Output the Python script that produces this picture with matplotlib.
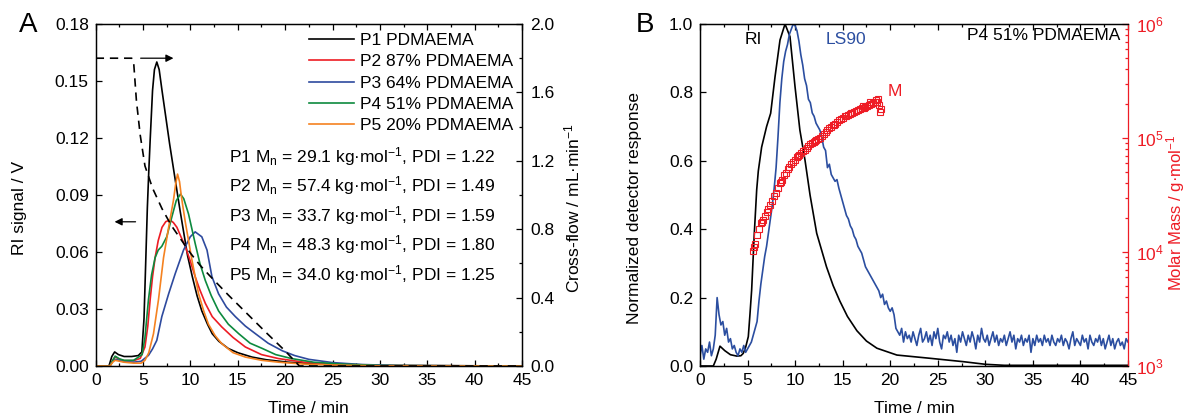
import numpy as np
import matplotlib
matplotlib.use("Agg")
import matplotlib.pyplot as plt
from matplotlib.ticker import MultipleLocator, FormatStrFormatter, LogLocator, NullFormatter

plt.rcParams['font.family'] = ['Liberation Sans', 'DejaVu Sans']
plt.rcParams['mathtext.fontset'] = 'custom'
plt.rcParams['mathtext.rm'] = 'Liberation Sans'
plt.rcParams['mathtext.it'] = 'Liberation Sans:italic'
plt.rcParams['font.size'] = 12.5
plt.rcParams['axes.linewidth'] = 0.9

# ---- panel A : RI signals (V) ----
p1_t = [0, 1.4, 1.7, 2.0, 2.4, 3.0, 3.8, 4.5, 4.87, 5.1, 5.3, 5.45, 5.6, 5.75, 6.0, 6.2, 6.45,
        6.7, 7.0, 7.4, 7.8, 8.3, 8.9, 9.3, 9.7, 10.2, 10.7, 11.2, 11.8, 12.3, 13.0, 14.0, 15.0,
        16.5, 18.0, 20.3, 23, 26, 30, 45]
p1_v = [0, 0, 0.005, 0.0074, 0.006, 0.005, 0.005, 0.0055, 0.0074, 0.025, 0.058, 0.083, 0.102,
        0.119, 0.145, 0.156, 0.160, 0.156, 0.145, 0.131, 0.117, 0.101, 0.082, 0.070, 0.058,
        0.047, 0.037, 0.029, 0.022, 0.017, 0.013, 0.0092, 0.007, 0.0047, 0.0033, 0.002, 0.0012,
        0.0006, 0.0002, 0]

p2_t = [0, 1.5, 1.8, 2.05, 2.5, 3.0, 4.0, 4.7, 5.2, 5.5, 5.75, 6.0, 6.27, 6.6, 7.0, 7.4, 7.86,
        8.2, 8.57, 9.0, 9.45, 10.0, 10.5, 11.0, 11.57, 12.3, 13.3, 14.5, 15.8, 17.5, 19.3, 22,
        25, 30, 45]
p2_v = [0, 0, 0.003, 0.0048, 0.0035, 0.0028, 0.0028, 0.004, 0.010, 0.021, 0.035, 0.047, 0.057,
        0.066, 0.073, 0.076, 0.0768, 0.0755, 0.073, 0.068, 0.063, 0.055, 0.047, 0.040, 0.033,
        0.026, 0.0206, 0.015, 0.010, 0.006, 0.0039, 0.002, 0.001, 0.0003, 0]

p3_t = [0, 1.5, 1.8, 2.05, 2.5, 3.0, 4.0, 4.8, 5.57, 6.0, 6.45, 6.98, 7.7, 8.4, 9.27, 9.98,
        10.5, 11.2, 11.75, 12.27, 12.97, 13.8, 14.74, 15.8, 16.86, 18.2, 19.7, 21, 22.5, 25,
        28, 32, 45]
p3_v = [0, 0, 0.0025, 0.0035, 0.003, 0.0022, 0.002, 0.0025, 0.0056, 0.009, 0.0135, 0.026,
        0.038, 0.0487, 0.061, 0.068, 0.0706, 0.068, 0.061, 0.047, 0.038, 0.031, 0.026, 0.021,
        0.017, 0.012, 0.008, 0.0055, 0.0035, 0.0018, 0.0008, 0.0002, 0]

p4_t = [0, 1.5, 1.8, 2.05, 2.5, 3.0, 4.0, 4.9, 5.2, 5.57, 5.9, 6.27, 6.6, 6.98, 7.5, 8.04,
        8.5, 8.95, 9.3, 9.8, 10.5, 11.0, 11.57, 12.2, 12.97, 14.0, 15.1, 16.3, 17.6, 19, 20.7,
        23, 26, 30, 45]
p4_v = [0, 0, 0.003, 0.0052, 0.0038, 0.003, 0.003, 0.006, 0.015, 0.035, 0.048, 0.057, 0.061,
        0.063, 0.068, 0.0785, 0.087, 0.0905, 0.088, 0.080, 0.0645, 0.054, 0.045, 0.037, 0.029,
        0.022, 0.017, 0.012, 0.0092, 0.006, 0.0039, 0.002, 0.001, 0.0003, 0]

p5_t = [0, 1.5, 1.8, 2.05, 2.5, 3.0, 4.0, 4.8, 5.2, 5.6, 6.1, 6.63, 7.16, 7.7, 8.2, 8.45,
        8.64, 8.85, 9.0, 9.17, 9.45, 9.8, 10.16, 10.86, 11.4, 11.9, 12.6, 13.3, 14.5, 15.8,
        17.5, 19.3, 22, 25, 30, 45]
p5_v = [0, 0, 0.002, 0.003, 0.0025, 0.002, 0.0015, 0.0015, 0.003, 0.007, 0.017, 0.035, 0.057,
        0.073, 0.087, 0.096, 0.101, 0.097, 0.091, 0.085, 0.076, 0.066, 0.0557, 0.038, 0.029,
        0.022, 0.016, 0.0118, 0.007, 0.0047, 0.003, 0.002, 0.001, 0.0005, 0.0001, 0]

# cross-flow programme (mL/min)
flow_t = [0, 3.8, 4.0, 4.3, 4.7, 5.2, 6.0, 7.0, 8.0, 9.0, 10, 11, 12, 14, 16, 18, 20, 21.5, 45]
flow_v = [1.8, 1.8, 1.78, 1.55, 1.35, 1.17, 1.04, 0.92, 0.82, 0.74, 0.66, 0.59, 0.53, 0.415,
          0.305, 0.195, 0.088, 0.0, 0.0]

labels = ['P1 PDMAEMA', 'P2 87% PDMAEMA', 'P3 64% PDMAEMA', 'P4 51% PDMAEMA', 'P5 20% PDMAEMA']
mn = [29.1, 57.4, 33.7, 48.3, 34.0]
pdi = [1.22, 1.49, 1.59, 1.80, 1.25]

# ---- panel B : P4 normalized detector signals ----
ri_t = [0, 1.4, 1.7, 2.1, 2.6, 3.2, 3.86, 4.3, 4.55, 4.8, 5.08, 5.25, 5.43, 5.71, 5.96, 6.13,
        6.48, 7.0, 7.43, 7.89, 8.41, 8.94, 9.46, 9.99, 10.5, 11.04, 11.57, 12.27, 13.3, 14.0,
        14.7, 15.5, 16.5, 17.5, 18.6, 20.7, 24.2, 27.7, 30, 32, 45]
ri_v = [0, 0, 0.02, 0.058, 0.045, 0.033, 0.029, 0.03, 0.037, 0.055, 0.086, 0.15, 0.222, 0.388,
        0.515, 0.57, 0.64, 0.70, 0.739, 0.846, 0.953, 1.0, 0.963, 0.817, 0.69, 0.602, 0.5,
        0.388, 0.29, 0.235, 0.19, 0.145, 0.103, 0.073, 0.052, 0.032, 0.0225, 0.0126, 0.005,
        0.002, 0.002]

ls_t = np.arange(0, 45.001, 0.2)
ls_v = [0.03, 0.06, 0.02, 0.05, 0.04, 0.07, 0.03, 0.05, 0.09, 0.20,
        0.15, 0.12, 0.13, 0.09, 0.11, 0.07, 0.08, 0.05, 0.06, 0.04,
        0.03, 0.05, 0.04, 0.06, 0.04, 0.05, 0.06, 0.07, 0.09, 0.11,
        0.13, 0.19, 0.24, 0.28, 0.32, 0.35, 0.39, 0.43, 0.47, 0.52,
        0.58, 0.67, 0.77, 0.84, 0.89, 0.92, 0.94, 0.97, 0.985, 1.0,
        0.995, 0.98, 0.95, 0.91, 0.88, 0.84, 0.82, 0.78, 0.77, 0.74,
        0.73, 0.71, 0.70, 0.69, 0.67, 0.64, 0.63, 0.58, 0.59, 0.56,
        0.55, 0.54, 0.545, 0.52, 0.50, 0.48, 0.46, 0.44, 0.43, 0.41,
        0.40, 0.38, 0.37, 0.35, 0.34, 0.33, 0.31, 0.29, 0.28, 0.27,
        0.26, 0.25, 0.24, 0.23, 0.22, 0.20, 0.21, 0.18, 0.19, 0.17,
        0.16, 0.17, 0.15, 0.11, 0.10, 0.09, 0.11, 0.07, 0.10, 0.08,
        0.09, 0.07, 0.10, 0.08, 0.06, 0.09, 0.11, 0.07, 0.08, 0.10,
        0.07, 0.09, 0.06, 0.10, 0.08, 0.11, 0.07, 0.05, 0.09, 0.08,
        0.10, 0.07, 0.09, 0.06, 0.08, 0.04, 0.09, 0.07, 0.10, 0.08,
        0.06, 0.09, 0.07, 0.10, 0.08, 0.05, 0.09, 0.07, 0.11, 0.08,
        0.07, 0.09, 0.06, 0.08, 0.10, 0.07, 0.09, 0.06, 0.08, 0.07,
        0.09, 0.06, 0.08, 0.10, 0.07, 0.09, 0.05, 0.08, 0.07, 0.09,
        0.06, 0.08, 0.07, 0.09, 0.04, 0.08, 0.06, 0.09, 0.07, 0.08,
        0.06, 0.09, 0.07, 0.08, 0.06, 0.09, 0.07, 0.06, 0.08, 0.07,
        0.09, 0.06, 0.08, 0.07, 0.05, 0.08, 0.10, 0.06, 0.08, 0.07,
        0.06, 0.09, 0.07, 0.08, 0.05, 0.09, 0.07, 0.06, 0.08, 0.07,
        0.09, 0.06, 0.08, 0.05, 0.07, 0.09, 0.06, 0.08, 0.05, 0.07,
        0.08, 0.06, 0.07, 0.05, 0.08, 0.07]

m_t = np.arange(5.6, 19.001, 0.2)
m_v = [10200, 11800, 14000, 16000, 17900, 19000, 20500, 22300, 23600, 25900,
       27800, 31000, 33200, 36500, 40100, 43000, 47200, 49500, 53000, 55800,
       58600, 61500, 64000, 67500, 70500, 73800, 76400, 79000, 82500, 85300,
       88500, 90600, 93000, 95500, 98200, 101000, 105000, 109000, 113500, 117000,
       121500, 125000, 129000, 133500, 138000, 143000, 146500, 151000, 155000, 157500,
       160500, 163000, 166500, 168500, 172000, 175000, 178500, 181500, 185000, 188000,
       192000, 196000, 199000, 203000, 208000, 205000, 195000, 178000]
m_extra_t = [5.7, 6.5, 8.5, 10.3, 12.1, 14.1, 15.9, 17.1, 17.9, 18.5, 18.7, 18.9]
m_extra_v = [11000, 18500, 41000, 69000, 95000, 131000, 165000, 190000, 205000, 215000,
             222000, 170000]

colors = ['black', '#ed1c24', '#2e4a9e', '#0d8a3e', '#f58220']
ls_blue = '#2b4ea0'
m_red = '#ee1c25'

fig = plt.figure(figsize=(11.87, 4.19), dpi=100)

# ================= panel A =================
ax = fig.add_axes([95.7 / 1187, 53 / 419, 426.3 / 1187, 342 / 419])
ax2 = ax.twinx()

series = [(p1_t, p1_v), (p2_t, p2_v), (p3_t, p3_v), (p4_t, p4_v), (p5_t, p5_v)]
for (t, v), c, lab in zip(series, colors, labels):
    ax.plot(t, v, color=c, lw=1.2, label=lab)
ax2.plot(flow_t, flow_v, color='black', lw=1.2, ls=(0, (5, 3.5)))

ax.set_xlim(0, 45)
ax.set_ylim(0, 0.18)
ax2.set_ylim(0, 2.0)
ax.xaxis.set_major_locator(MultipleLocator(5))
ax.xaxis.set_minor_locator(MultipleLocator(2.5))
ax.yaxis.set_major_locator(MultipleLocator(0.03))
ax.yaxis.set_major_formatter(FormatStrFormatter('%.2f'))
ax2.yaxis.set_major_locator(MultipleLocator(0.4))
ax2.yaxis.set_minor_locator(MultipleLocator(0.2))
ax2.yaxis.set_major_formatter(FormatStrFormatter('%.1f'))
ax.tick_params(axis='x', which='both', direction='in', top=True, pad=5)
ax.tick_params(axis='y', which='both', direction='in', pad=5)
ax.tick_params(which='major', length=4, width=0.9)
ax.tick_params(which='minor', length=2.5, width=0.9)
ax2.tick_params(axis='y', which='both', direction='in', pad=6, width=0.9)
ax2.tick_params(which='major', length=4)
ax2.tick_params(which='minor', length=2.5)

ax.set_xlabel('Time / min')
ax.xaxis.set_label_coords(0.5, -0.102)
ax.set_ylabel('RI signal / V')
ax.yaxis.set_label_coords(-0.161, 0.462)
ax2.set_ylabel('Cross-flow / mL·min$^{-1}$')
ax2.yaxis.set_label_coords(1.096, 0.462)

ax.legend(loc='upper right', bbox_to_anchor=(1.0, 1.0), frameon=False, borderaxespad=0.2,
          borderpad=0.3, handlelength=2.6, handletextpad=0.35, labelspacing=0.36)

for i in range(5):
    ax.text(0.3127, 0.5965 - i * 0.0863,
            'P%d M$_\\mathrm{n}$ = %.1f kg·mol$^{-1}$, PDI = %.2f' % (i + 1, mn[i], pdi[i]),
            transform=ax.transAxes, va='baseline', ha='left')

ax2.annotate('', xy=(8.5, 1.8), xytext=(4.45, 1.8),
             arrowprops=dict(arrowstyle='-|>', color='black', lw=0.9, mutation_scale=11))
ax.annotate('', xy=(1.7, 0.0759), xytext=(4.5, 0.0759),
            arrowprops=dict(arrowstyle='-|>', color='black', lw=0.9, mutation_scale=11))

fig.text(28 / 1187, 1 - 25 / 419, 'A', fontsize=20, ha='center', va='center')

# ================= panel B =================
bx = fig.add_axes([700 / 1187, 53 / 419, 428 / 1187, 342 / 419])
bx2 = bx.twinx()

bx.plot(ri_t, ri_v, color='black', lw=1.2)
bx.plot(ls_t, ls_v, color=ls_blue, lw=1.2)
bx2.plot(m_t, m_v, ls='none', marker='s', mfc='none', mec=m_red, ms=4.3, mew=0.8)
bx2.plot(m_extra_t, m_extra_v, ls='none', marker='s', mfc='none', mec=m_red, ms=4.3, mew=0.8)

bx.set_xlim(0, 45)
bx.set_ylim(0, 1.0)
bx2.set_yscale('log')
bx2.set_ylim(1e3, 1e6)
bx.xaxis.set_major_locator(MultipleLocator(5))
bx.xaxis.set_minor_locator(MultipleLocator(2.5))
bx.yaxis.set_major_locator(MultipleLocator(0.2))
bx.yaxis.set_major_formatter(FormatStrFormatter('%.1f'))
bx.tick_params(axis='x', which='both', direction='in', top=True, pad=5)
bx.tick_params(axis='y', which='both', direction='in', pad=5)
bx.tick_params(which='major', length=4, width=0.9)
bx.tick_params(which='minor', length=2.5, width=0.9)
bx2.yaxis.set_major_locator(LogLocator(base=10))
bx2.yaxis.set_minor_locator(LogLocator(base=10, subs=np.arange(2, 10)))
bx2.yaxis.set_minor_formatter(NullFormatter())
bx2.tick_params(axis='y', which='both', direction='in', pad=6, color=m_red,
                labelcolor=m_red, width=0.9)
bx2.tick_params(which='major', length=4)
bx2.tick_params(which='minor', length=2.5)
bx2.spines['right'].set_color(m_red)
bx.spines['right'].set_visible(False)

bx.set_xlabel('Time / min')
bx.xaxis.set_label_coords(0.5, -0.102)
bx.set_ylabel('Normalized detector response')
bx.yaxis.set_label_coords(-0.1355, 0.463)
bx2.set_ylabel('Molar Mass / g·mol$^{-1}$', color=m_red, fontsize=12)
bx2.yaxis.set_label_coords(1.084, 0.447)

bx.text(5.57, 0.956, 'RI', color='black', ha='center', va='center')
bx.text(15.35, 0.956, 'LS90', color=ls_blue, ha='center', va='center')
bx.text(19.77, 0.804, 'M', color=m_red, ha='left', va='center')
bx.text(44.16, 0.965, 'P4 51% PDMAEMA', color='black', ha='right', va='center')

fig.text(645 / 1187, 1 - 25 / 419, 'B', fontsize=20, ha='center', va='center')

fig.savefig('out.png', dpi=100)
